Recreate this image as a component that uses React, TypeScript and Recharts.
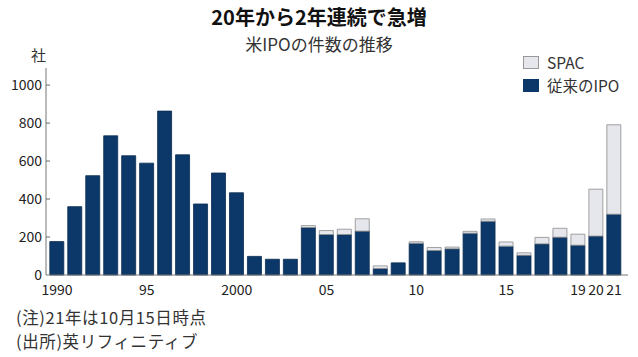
import React from "react";
import { BarChart, Bar, XAxis, YAxis } from "recharts";

const years = [
  1990, 1991, 1992, 1993, 1994, 1995, 1996, 1997, 1998, 1999, 2000, 2001, 2002, 2003, 2004, 2005,
  2006, 2007, 2008, 2009, 2010, 2011, 2012, 2013, 2014, 2015, 2016, 2017, 2018, 2019, 2020, 2021,
];
const ipo = [
  176, 360, 523, 733, 628, 589, 863, 633, 374, 537, 433, 98, 83, 83, 250, 213,
  213, 231, 34, 64, 167, 129, 138, 220, 283, 152, 104, 164, 199, 157, 205, 320,
];
const spac = [
  0, 0, 0, 0, 0, 0, 0, 0, 0, 0, 0, 0, 0, 0, 10, 21,
  28, 65, 14, 0, 8, 16, 9, 10, 12, 22, 13, 34, 47, 58, 247, 471,
];
const labeled: Record<number, string> = {
  1990: "1990", 1995: "95", 2000: "2000", 2005: "05", 2010: "10", 2015: "15", 2019: "19", 2020: "20", 2021: "21",
};
const yTicks = [0, 200, 400, 600, 800, 1000];

const data = years.map((y, i) => ({ year: y, ipo: ipo[i], spac: spac[i] }));

const font = '"Noto Sans CJK JP", "Noto Sans", sans-serif';
const navy = "#0c3869";
const spacFill = "#e5e7ed";

function YTick(props: any) {
  const { x, y, payload } = props;
  return (
    <g>
      <text x={x} y={y} dy={5} textAnchor="end" fontSize={14} fill="#222" fontFamily={font}>
        {payload.value}
      </text>
      {payload.value > 0 && <line x1={x + 4} x2={x + 8} y1={y} y2={y} stroke="#666" />}
    </g>
  );
}

function XTick(props: any) {
  const { x, y, payload } = props;
  const label = labeled[payload.value];
  if (!label) return null;
  return (
    <text x={x} y={y} dy={12} textAnchor="middle" fontSize={14} fill="#222" fontFamily={font}>
      {label}
    </text>
  );
}

export default function App() {
  return (
    <div style={{ position: "fixed", left: 0, top: 0, width: 638, height: 357, background: "#fff", fontFamily: font }}>
      <div style={{ position: "absolute", left: 0, width: 638, top: 2, textAlign: "center", fontSize: 20, fontWeight: 700, color: "#111", paddingRight: 4 }}>
        20年から2年連続で急増
      </div>
      <div style={{ position: "absolute", left: 0, width: 638, top: 31, textAlign: "center", fontSize: 17, color: "#333", paddingRight: 4 }}>
        米IPOの件数の推移
      </div>
      <div style={{ position: "absolute", left: 31, top: 44, fontSize: 15, color: "#333" }}>社</div>

      <div style={{ position: "absolute", left: 523, top: 51, fontSize: 15.5, color: "#333", lineHeight: "23px" }}>
        <div style={{ display: "flex", alignItems: "center" }}>
          <span style={{ display: "inline-block", width: 16, height: 13, background: spacFill, border: "1px solid #999", boxSizing: "border-box", marginRight: 8 }} />
          SPAC
        </div>
        <div style={{ display: "flex", alignItems: "center" }}>
          <span style={{ display: "inline-block", width: 16, height: 13, background: navy, marginRight: 8 }} />
          従来のIPO
        </div>
      </div>

      <div style={{ position: "absolute", left: 0, top: 0 }}>
        <BarChart
          width={638}
          height={357}
          data={data}
          margin={{ top: 68, right: 10, bottom: 52, left: 6 }}
          barCategoryGap="10%"
        >
          <XAxis
            dataKey="year"
            interval={0}
            tickLine={false}
            tick={<XTick />}
            axisLine={{ stroke: "#777" }}
            height={30}
            padding={{ left: 2, right: 5 }}
          />
          <YAxis
            domain={[0, 1090]}
            ticks={yTicks}
            width={40}
            tickSize={0}
            tickMargin={4}
            tickLine={false}
            tick={<YTick />}
            axisLine={{ stroke: "#777" }}
          />
          <Bar dataKey="ipo" stackId="a" fill={navy} stroke="#0a2c52" strokeWidth={0.8} isAnimationActive={false} />
          <Bar dataKey="spac" stackId="a" fill={spacFill} stroke="#8c8c8c" strokeWidth={0.8} isAnimationActive={false} />
        </BarChart>
      </div>

      <div style={{ position: "absolute", left: 16, top: 305, fontSize: 16.5, color: "#333", lineHeight: "24px", letterSpacing: 0.6 }}>
        <div>(注)21年は10月15日時点</div>
        <div>(出所)英リフィニティブ</div>
      </div>
    </div>
  );
}
